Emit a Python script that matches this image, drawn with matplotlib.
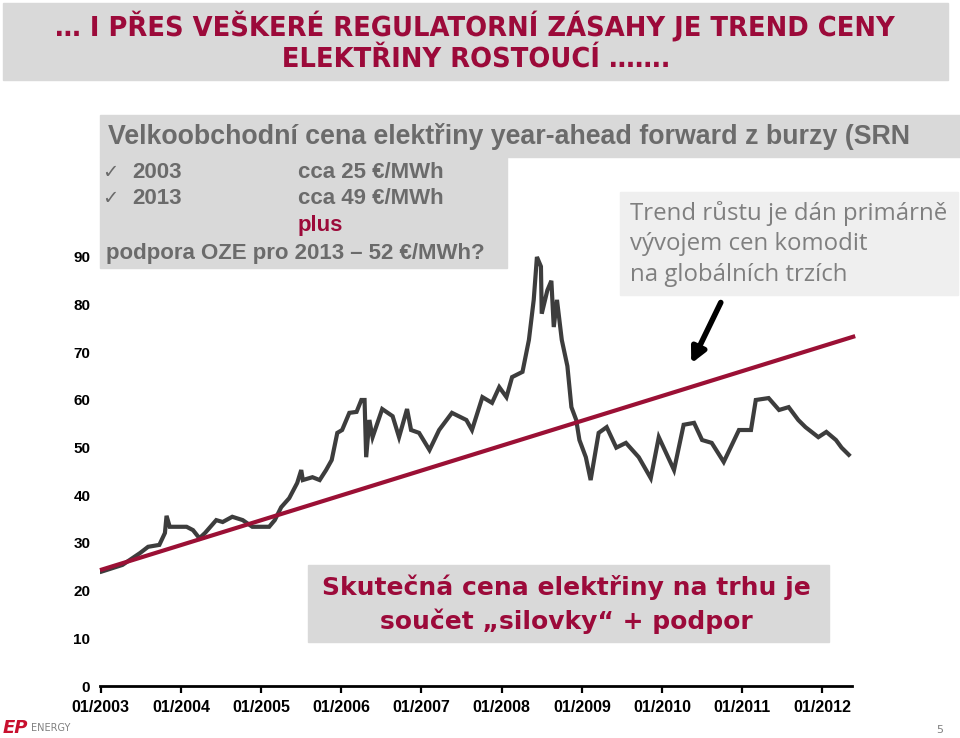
import matplotlib.pyplot as plt
import matplotlib.transforms as mtransforms
from matplotlib.patches import Rectangle, FancyArrowPatch, PathPatch
from matplotlib.textpath import TextPath
from matplotlib.font_manager import FontProperties

# price of year-ahead forward (EUR/MWh), decimal year
years = [2003.01, 2003.27, 2003.49, 2003.59, 2003.73, 2003.80, 2003.82, 2003.86, 2003.95,
         2004.07, 2004.15, 2004.23, 2004.30, 2004.44, 2004.52, 2004.64, 2004.77, 2004.89,
         2005.10, 2005.17, 2005.25, 2005.35, 2005.45, 2005.50, 2005.52, 2005.64, 2005.73,
         2005.81, 2005.88, 2005.95, 2006.01, 2006.10, 2006.19, 2006.25, 2006.29, 2006.31,
         2006.35, 2006.39, 2006.51, 2006.64, 2006.72, 2006.82, 2006.87, 2006.97,
         2007.10, 2007.22, 2007.38, 2007.56, 2007.63, 2007.76, 2007.88, 2007.97,
         2008.06, 2008.13, 2008.26, 2008.34, 2008.40, 2008.44, 2008.49, 2008.50, 2008.57,
         2008.62, 2008.65, 2008.69, 2008.75, 2008.82, 2008.87, 2008.93, 2008.97,
         2009.05, 2009.11, 2009.21, 2009.31, 2009.43, 2009.55, 2009.71, 2009.86, 2009.96,
         2010.15, 2010.27, 2010.40, 2010.50, 2010.62, 2010.77, 2010.96,
         2011.11, 2011.17, 2011.33, 2011.46, 2011.58, 2011.70, 2011.79, 2011.95,
         2012.05, 2012.17, 2012.24, 2012.33]
prices = [24.0, 25.4, 27.9, 29.2, 29.6, 32.1, 35.7, 33.4, 33.4,
          33.4, 32.7, 31.0, 32.1, 34.8, 34.4, 35.5, 34.8, 33.4,
          33.4, 34.8, 37.5, 39.4, 42.6, 45.3, 43.2, 43.8, 43.2,
          45.3, 47.4, 53.1, 53.7, 57.3, 57.5, 60.0, 60.0, 48.0,
          55.8, 52.2, 58.1, 56.6, 52.2, 58.1, 53.7, 53.1,
          49.5, 53.7, 57.3, 55.8, 53.7, 60.6, 59.4, 62.7,
          60.6, 64.8, 65.9, 72.6, 81.0, 90.0, 88.0, 78.1, 83.0,
          85.0, 75.3, 81.0, 72.6, 67.1, 58.5, 55.8, 51.6,
          48.0, 43.2, 53.1, 54.3, 50.0, 51.0, 48.0, 43.6, 52.2,
          45.3, 54.8, 55.2, 51.6, 51.0, 47.0, 53.7,
          53.7, 60.0, 60.4, 57.9, 58.5, 55.8, 54.3, 52.2,
          53.3, 51.6, 50.0, 48.5]

trend_x = [2002.99, 2012.41]
trend_y = [24.3, 73.4]

tick_years = list(range(2003, 2013))
tick_labels = ["01/%d" % y for y in tick_years]
y_ticks = list(range(0, 100, 10))

title_lines = ["… I PŘES VEŠKERÉ REGULATORNÍ ZÁSAHY JE TREND CENY",
               "ELEKTŘINY ROSTOUCÍ ……."]

W, H = 960, 738
RED = '#9c0a3a'


def fx(px):
    return px / W


def fy(py):
    return 1 - py / H


fig = plt.figure(figsize=(9.6, 7.38), dpi=100)
ax = fig.add_axes([fx(100), fy(686), (852 - 100) / W, 476.7 / H])

ax.plot(years, prices, color='#3d3d3d', lw=3, zorder=2, solid_joinstyle='miter')
ax.plot(trend_x, trend_y, color='#9b1035', lw=3, zorder=3, clip_on=False,
        solid_capstyle='butt')

ax.set_xlim(2002.99, 2012.37)
ax.set_ylim(0, 100)
ax.set_xticks(tick_years)
ax.set_xticklabels(tick_labels, fontsize=11.5, fontweight='bold', family='Liberation Sans')
ax.set_yticks(y_ticks)
ax.set_yticklabels([str(v) for v in y_ticks], fontsize=11, fontweight='bold',
                   family='Liberation Sans')
ax.tick_params(axis='y', length=0, pad=7)
ax.tick_params(axis='x', length=5, width=1.6, direction='out', pad=5)
for s in ['top', 'right', 'left']:
    ax.spines[s].set_visible(False)
ax.spines['bottom'].set_linewidth(2)

# title box, text squeezed horizontally to mimic a condensed face
fig.patches.append(Rectangle((fx(3), fy(80)), (948 - 3) / W, 77 / H,
                             transform=fig.transFigure, color='#d9d9d9', zorder=0))
tfp = FontProperties(family='DejaVu Sans', weight='bold')
tsize = 20 / 0.729
paths = [TextPath((0, 0), s, size=tsize, prop=tfp) for s in title_lines]
sx = 838 / paths[0].get_extents().width
for tp, cy in zip(paths, [26, 57]):
    ext = tp.get_extents()
    tx = 476 - sx * (ext.x0 + ext.x1) / 2
    base = (H - cy) - 0.729 * tsize / 2
    tr = mtransforms.Affine2D().scale(sx, 1).translate(tx, base)
    fig.add_artist(PathPatch(tp, transform=tr, facecolor=RED, lw=0))

# left info box
fig.patches.append(Rectangle((fx(100), fy(157)), (965 - 100) / W, 42 / H,
                             transform=fig.transFigure, color='#d9d9d9', zorder=0))
fig.patches.append(Rectangle((fx(100), fy(268)), (507 - 100) / W, 111 / H,
                             transform=fig.transFigure, color='#d9d9d9', zorder=0))
GREY = '#6b6b6b'
fig.text(fx(108), fy(137), "Velkoobchodní cena elektřiny year-ahead forward z burzy (SRN",
         ha='left', va='center', color=GREY, fontsize=19.3, fontweight='bold',
         family='Liberation Sans')
for py, yr, val in [(172, "2003", "cca 25 €/MWh"), (198, "2013", "cca 49 €/MWh")]:
    fig.text(fx(102), fy(py), "✓", ha='left', va='center', color=GREY, fontsize=14,
             family=['DejaVu Sans'])
    fig.text(fx(132), fy(py), yr, ha='left', va='center', color=GREY, fontsize=16,
             fontweight='bold', family='Liberation Sans')
    fig.text(fx(298), fy(py), val, ha='left', va='center', color=GREY, fontsize=16,
             fontweight='bold', family='Liberation Sans')
fig.text(fx(298), fy(226), "plus", ha='left', va='center', color=RED, fontsize=16,
         fontweight='bold', family='Liberation Sans')
fig.text(fx(106), fy(254), "podpora OZE pro 2013 – 52 €/MWh?", ha='left', va='center',
         color=GREY, fontsize=16, fontweight='bold', family='Liberation Sans')

# right box
fig.patches.append(Rectangle((fx(620), fy(295)), (958 - 620) / W, 103 / H,
                             transform=fig.transFigure, color='#efefef', zorder=0))
for py, line in [(213, "Trend růstu je dán primárně"), (244, "vývojem cen komodit"),
                 (275, "na globálních trzích")]:
    fig.text(fx(630), fy(py), line, ha='left', va='center', color='#7f7f7f',
             fontsize=17.3, family='Open Sans')

fig.patches.append(FancyArrowPatch((fx(722), fy(300)), (fx(690), fy(366)),
                                   transform=fig.transFigure, arrowstyle='-|>',
                                   mutation_scale=22, lw=4, color='black'))

# bottom box
fig.patches.append(Rectangle((fx(308), fy(642)), (829 - 308) / W, 77 / H,
                             transform=fig.transFigure, color='#d9d9d9', zorder=0))
fig.text(fx(566), fy(587), "Skutečná cena elektřiny na trhu je", ha='center',
         va='center', color=RED, fontsize=18, fontweight='bold', family='DejaVu Sans')
fig.text(fx(566), fy(621), "součet „silovky“ + podpor", ha='center',
         va='center', color=RED, fontsize=18, fontweight='bold', family='DejaVu Sans')

# logo and page number
fig.text(fx(3), fy(728), "EP", ha='left', va='center', color='#c8102e', fontsize=13,
         fontweight='bold', fontstyle='italic', family='DejaVu Sans')
fig.text(fx(31), fy(728), "ENERGY", ha='left', va='center', color='#808080',
         fontsize=7, family='DejaVu Sans')
fig.text(fx(940), fy(730), "5", ha='center', va='center', color='#808080', fontsize=8)

fig.savefig("out.png", dpi=100)
plt.close()
